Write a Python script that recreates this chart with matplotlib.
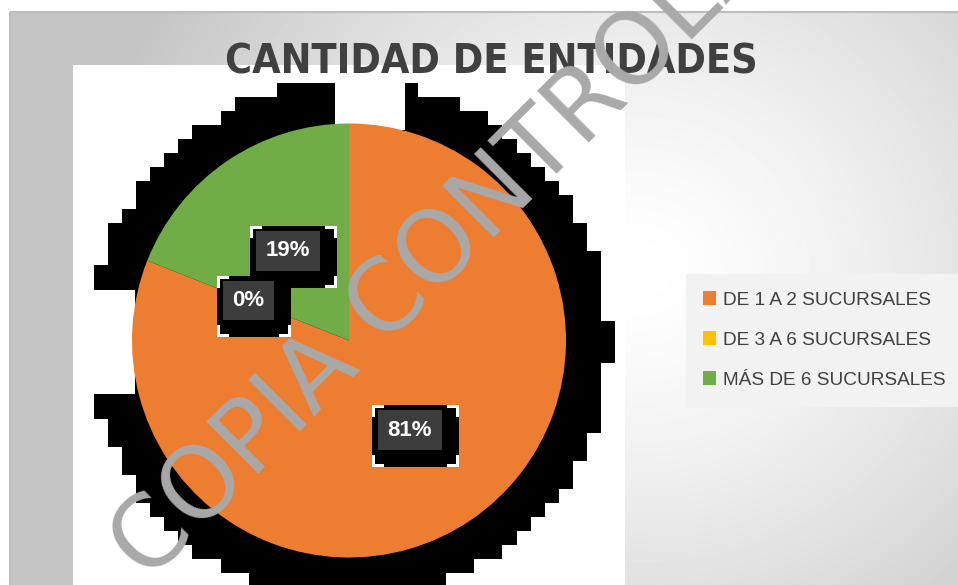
import numpy as np
import matplotlib.pyplot as plt
from matplotlib.patches import Rectangle
from matplotlib.colors import ListedColormap

categorias = ["DE 1 A 2 SUCURSALES", "DE 3 A 6 SUCURSALES", "MÁS DE 6 SUCURSALES"]
porcentajes = [81, 0, 19]
colores = ["#ED7D31", "#FFC000", "#70AD47"]
titulo = "CANTIDAD DE ENTIDADES"
marca = "COPIA CONTROLADA"

W, H = 958, 585
fig = plt.figure(figsize=(W / 100, H / 100), dpi=100)
ax = fig.add_axes([0, 0, 1, 1])

# fondo degradado del area del grafico
yy, xx = np.mgrid[11:H, 10:W]
d = np.hypot(xx - 640, (yy - 270) * 1.1) / 560
fondo = 1 - 0.23 * np.clip(d, 0, 1) ** 1.4
ax.imshow(fondo, cmap="gray", vmin=0, vmax=1, extent=(10, W, H, 11), zorder=0)
ax.add_patch(Rectangle((10, 11.5), W, H, fc="none", ec="#bdbdbd", lw=1.5, zorder=0.5))
ax.add_patch(Rectangle((73, 65), 552, 530, fc="white", ec="none", zorder=1))

# sombra negra escalonada detras del pastel
cx, cy, R = 349, 340.5, 217
gx = np.arange(9 - 14.1 * 6, W, 14.1)
gy = np.arange(13 - 14 * 6, H + 28, 14)
mx, my = np.meshgrid((gx[:-1] + gx[1:]) / 2, (gy[:-1] + gy[1:]) / 2)
dentro = np.hypot(mx - cx, my - cy) < 260
ax.pcolormesh(gx, gy, np.ma.masked_where(~dentro, dentro.astype(float)),
              cmap=ListedColormap(["black"]), zorder=2)
ax.add_patch(Rectangle((90, 290), 45, 104, fc="white", ec="none", zorder=2.5))
ax.add_patch(Rectangle((335, 80), 70, 50, fc="white", ec="none", zorder=2.5))

wedges, _, pct = ax.pie(porcentajes, colors=colores, center=(cx, cy), radius=R,
                        startangle=-90, counterclock=True, autopct="%1.0f%%",
                        pctdistance=0.5, frame=True,
                        wedgeprops=dict(linewidth=0, zorder=3))

for t in pct:
    t.set(color="white", fontsize=16, fontweight="bold", family="Liberation Sans",
          zorder=7)
    t.set_bbox(dict(boxstyle="square,pad=0.42", fc="#3d3d3d", ec="none"))

ax.set_xlim(0, W)
ax.set_ylim(H, 0)
ax.set_aspect("auto")
ax.axis("off")

# cajas de las etiquetas
fig.canvas.draw()
r = fig.canvas.get_renderer()
inv = ax.transData.inverted()
for t in pct:
    ext = t.get_bbox_patch().get_window_extent(r)
    (x0, y1), (x1, y0) = inv.transform([[ext.x0, ext.y0], [ext.x1, ext.y1]])
    x0, y0, x1, y1 = x0 - 6, y0 - 5, x1 + 17, y1 + 17
    ax.add_patch(Rectangle((x0, y0), x1 - x0, y1 - y0, fc="white", ec="none", zorder=4))
    ax.add_patch(Rectangle((x0 + 3, y0 + 3), x1 - x0 - 6, y1 - y0 - 6, fc="black",
                           ec="none", zorder=5))
    ax.add_patch(Rectangle((x0 + 12, y0), x1 - x0 - 24, y1 - y0, fc="black",
                           ec="none", zorder=5))
    ax.add_patch(Rectangle((x0, y0 + 12), x1 - x0, y1 - y0 - 24, fc="black",
                           ec="none", zorder=5))

ax.text(491, 62, titulo, ha="center", va="center", fontsize=29.5, fontweight="bold",
        fontstretch="condensed", color="#404040", family="DejaVu Sans", zorder=8)

leg = ax.legend(wedges, categorias, loc="center left", bbox_to_anchor=(686, 340),
                bbox_transform=ax.transData, frameon=True, facecolor="#f2f2f2",
                edgecolor="#f2f2f2", fancybox=False, framealpha=1, handlelength=0.7,
                handleheight=0.7, handletextpad=0.35, labelspacing=1.2, borderpad=0.9,
                borderaxespad=0, labelcolor="#404040",
                prop=dict(family="Liberation Sans", size=13.7))
leg.set_zorder(8)

ax.text(148, 583, marca, rotation=45, rotation_mode="anchor", ha="left",
        va="baseline", fontsize=71, color="#a9a9a9",
        family="DejaVu Sans", zorder=10)

fig.savefig("out.png", dpi=100)
